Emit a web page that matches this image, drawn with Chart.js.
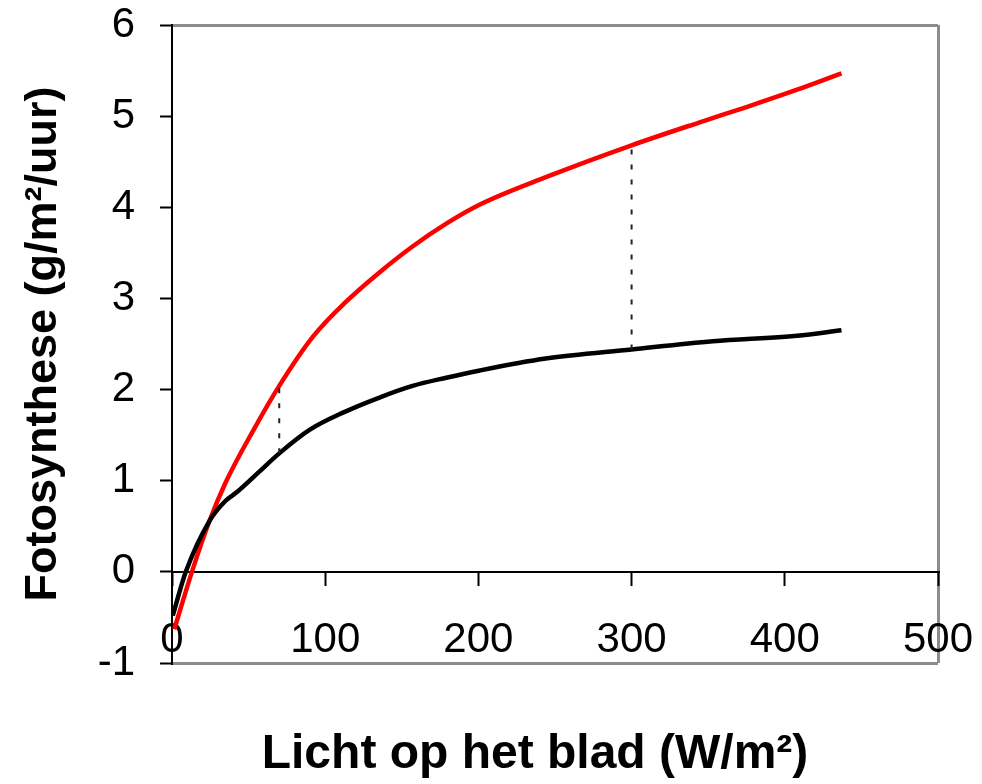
<!DOCTYPE html>
<html>
<head>
<meta charset="utf-8">
<script src="https://cdn.jsdelivr.net/npm/chart.js@4.4.0/dist/chart.umd.min.js"></script>
<style>
  html, body { margin: 0; padding: 0; background: #fff; }
</style>
</head>
<body>
<canvas id="grafiek" width="982" height="784"></canvas>
<script>
// licht op het blad (W/m2) en fotosynthese (g/m2/uur)
const lichtRood = [1.5, 13, 24.5, 35, 53, 70, 92, 114, 135, 157, 179, 201, 244, 300, 344, 375, 408, 437];
const fotoRood = [-0.63, 0, 0.56, 0.98, 1.55, 2.04, 2.58, 2.97, 3.28, 3.57, 3.82, 4.03, 4.33, 4.68, 4.93, 5.10, 5.29, 5.47];

const lichtZwart = [0.5, 9, 24.5, 35, 42, 57, 70, 90, 112, 135, 157, 179, 201, 244, 300, 353, 408, 437];
const fotoZwart = [-0.48, 0, 0.56, 0.78, 0.87, 1.10, 1.30, 1.56, 1.75, 1.91, 2.04, 2.13, 2.21, 2.34, 2.44, 2.53, 2.59, 2.65];

// stippellijnen tussen de twee curves
const streep1X = [70, 70];
const streep1Y = [1.30, 2.04];
const streep2X = [300, 300];
const streep2Y = [2.44, 4.68];

const xTicks = [0, 100, 200, 300, 400, 500];
const yTicks = [-1, 0, 1, 2, 3, 4, 5, 6];

const lettertype = '"Liberation Sans", Arial, sans-serif';

function punten(xs, ys) {
  return xs.map((x, i) => ({ x: x, y: ys[i] }));
}

// geen extra ruimte voor half uitstekende labels, de padding van de layout bepaalt alles
function geenPadding(s) {
  s.paddingLeft = 0;
  s.paddingRight = 0;
  s.paddingTop = 0;
  s.paddingBottom = 0;
}

const ctx = document.getElementById('grafiek').getContext('2d');
new Chart(ctx, {
  type: 'line',
  data: {
    datasets: [
      {
        data: punten(streep1X, streep1Y),
        borderColor: '#222',
        borderWidth: 2,
        borderDash: [5, 10],
        pointRadius: 0,
      },
      {
        data: punten(streep2X, streep2Y),
        borderColor: '#222',
        borderWidth: 2,
        borderDash: [5, 10],
        pointRadius: 0,
      },
      {
        data: punten(lichtZwart, fotoZwart),
        borderColor: '#000',
        borderWidth: 4.5,
        pointRadius: 0,
        cubicInterpolationMode: 'monotone',
      },
      {
        data: punten(lichtRood, fotoRood),
        borderColor: '#ff0000',
        borderWidth: 4.5,
        pointRadius: 0,
        cubicInterpolationMode: 'monotone',
      },
    ],
  },
  options: {
    responsive: false,
    animation: false,
    layout: { padding: { top: 25, right: 44, bottom: 121, left: 0 } },
    plugins: {
      legend: { display: false },
      tooltip: { enabled: false },
    },
    scales: {
      x: {
        type: 'linear',
        position: { y: 0 },
        min: 0,
        max: 500,
        afterBuildTicks: (s) => {
          s.ticks = xTicks.map((v) => ({ value: v }));
        },
        afterFit: geenPadding,
        grid: {
          color: (c) => (c.tick && c.tick.value === 500 ? '#8c8c8c' : 'rgba(0,0,0,0)'),
          lineWidth: 3,
          tickColor: '#000',
          tickLength: 13,
          tickWidth: 2,
        },
        border: { color: '#000', width: 2 },
        ticks: {
          color: '#000',
          font: { family: lettertype, size: 42 },
          padding: 30,
          maxRotation: 0,
        },
        title: {
          display: true,
          // de titel staat iets links van het midden, vandaar de harde spaties
          text: 'Licht op het blad (W/m²)\u00a0\u00a0\u00a0',
          color: '#000',
          font: { family: lettertype, size: 48, weight: 'bold' },
          padding: { top: 31, bottom: 0 },
        },
      },
      y: {
        min: -1,
        max: 6,
        afterBuildTicks: (s) => {
          s.ticks = yTicks.map((v) => ({ value: v }));
        },
        afterFit: (s) => {
          geenPadding(s);
          s.width = 172;
        },
        grid: {
          color: (c) =>
            c.tick && (c.tick.value === -1 || c.tick.value === 6) ? '#8c8c8c' : 'rgba(0,0,0,0)',
          lineWidth: 3,
          tickColor: '#000',
          tickLength: 12,
          tickWidth: 2,
        },
        border: { color: '#000', width: 2 },
        ticks: {
          color: '#000',
          font: { family: lettertype, size: 42 },
          padding: 25,
        },
        title: {
          display: true,
          text: 'Fotosynthese (g/m²/uur)',
          color: '#000',
          font: { family: lettertype, size: 45, weight: 'bold' },
          padding: { top: 17, bottom: 0 },
        },
      },
    },
  },
});
</script>
</body>
</html>
